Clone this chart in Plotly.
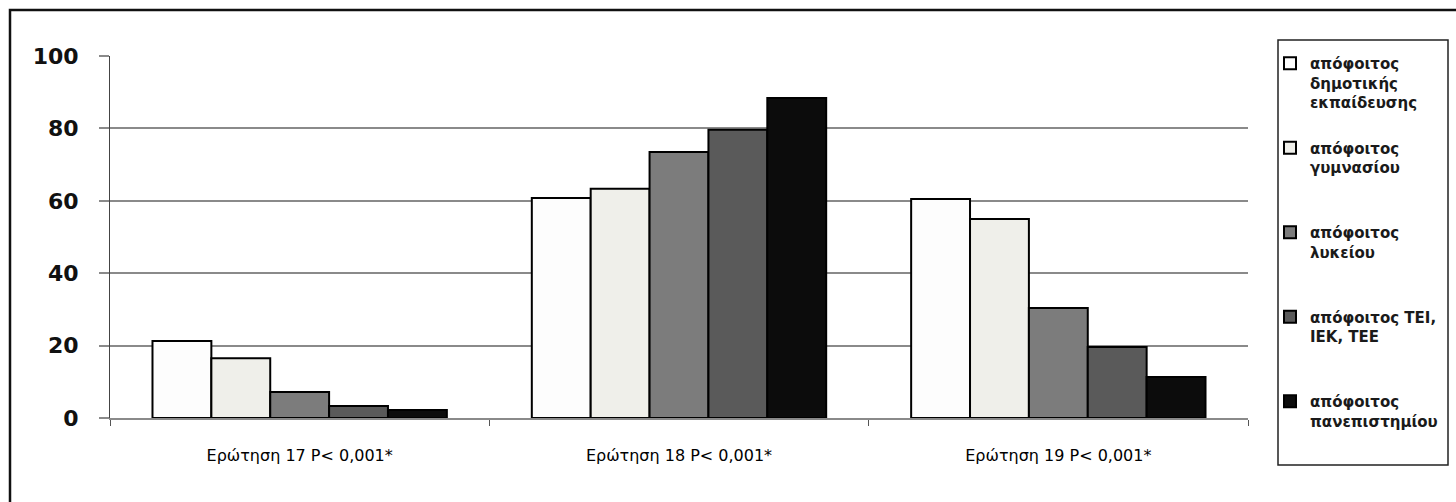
import plotly.graph_objects as go

categories = ["Ερώτηση 17 P< 0,001*", "Ερώτηση 18 P< 0,001*", "Ερώτηση 19 P< 0,001*"]
series_names = [
    "απόφοιτος<br>δημοτικής<br>εκπαίδευσης",
    "απόφοιτος<br>γυμνασίου<br> ",
    "απόφοιτος<br>λυκείου<br> ",
    "απόφοιτος ΤΕΙ,<br>ΙΕΚ, ΤΕΕ<br> ",
    "απόφοιτος<br>πανεπιστημίου<br> ",
]
dimotiki = [21.3, 60.8, 60.5]
gymnasio = [16.5, 63.3, 55.0]
lykeio = [7.2, 73.5, 30.4]
tei_iek = [3.3, 79.6, 19.6]
panepistimio = [2.2, 88.4, 11.3]
y_ticks = [0, 20, 40, 60, 80, 100]

series_values = [dimotiki, gymnasio, lykeio, tei_iek, panepistimio]
colors = ["#fdfdfd", "#efefea", "#7c7c7c", "#5a5a5a", "#0c0c0c"]

fig = go.Figure()
for i, (name, vals, col) in enumerate(zip(series_names, series_values, colors)):
    fig.add_trace(go.Bar(
        x=categories, y=vals, name=name,
        marker=dict(color=col, line=dict(color="#000000", width=2)),
        legendgroup=f"g{i}",
    ))

W, H = 1456, 502
L, R, T, B = 110, 208, 56, 84
PW = W - L - R
PH = H - T - B


def px_x(p):
    return (p - L) / PW


def px_y(p):
    return (H - B - p) / PH


fig.update_layout(
    width=W, height=H,
    margin=dict(l=L, r=R, t=T, b=B),
    paper_bgcolor="white", plot_bgcolor="white",
    barmode="group", bargap=0.224, bargroupgap=0,
    font=dict(family="DejaVu Sans, sans-serif", color="#000000"),
    showlegend=True,
    legend=dict(
        xref="container", yref="container",
        x=1270 / W, y=1 - 47 / H, xanchor="left", yanchor="top",
        font=dict(size=15, color="#1a1a1a", family="DejaVu Sans, sans-serif", weight="bold"),
        valign="top", tracegroupgap=23, traceorder="grouped",
        bgcolor="rgba(0,0,0,0)", borderwidth=0, maxheight=480,
    ),
    xaxis=dict(
        showgrid=False, showline=True, linecolor="#8a8a8a", linewidth=2,
        ticks="outside", tickson="boundaries", ticklen=6, tickcolor="#555555",
        tickfont=dict(size=16, color="#000000", family="DejaVu Sans, sans-serif"),
        ticklabelstandoff=22,
    ),
    yaxis=dict(
        range=[0, 100], tickvals=y_ticks, showgrid=True, gridcolor="#8a8a8a", gridwidth=1.5,
        showline=True, linecolor="#444444", linewidth=1,
        ticks="outside", ticklen=10, tickcolor="#8a8a8a", tickwidth=1.5,
        tickfont=dict(size=22, color="#111111", family="DejaVu Sans, sans-serif", weight="bold"),
        ticklabelstandoff=16, zeroline=False,
    ),
    shapes=[
        dict(type="rect", xref="paper", yref="paper",
             x0=px_x(1278), x1=px_x(1448), y0=px_y(465), y1=px_y(40),
             line=dict(color="#222222", width=1.5), fillcolor="rgba(0,0,0,0)"),
        dict(type="rect", xref="paper", yref="paper",
             x0=px_x(10), x1=px_x(1470), y0=px_y(520), y1=px_y(10),
             line=dict(color="#111111", width=2.5), fillcolor="rgba(0,0,0,0)"),
    ],
)

fig.write_html("out.html", config={"displayModeBar": False},
               post_script="document.body.style.margin='0px';")
